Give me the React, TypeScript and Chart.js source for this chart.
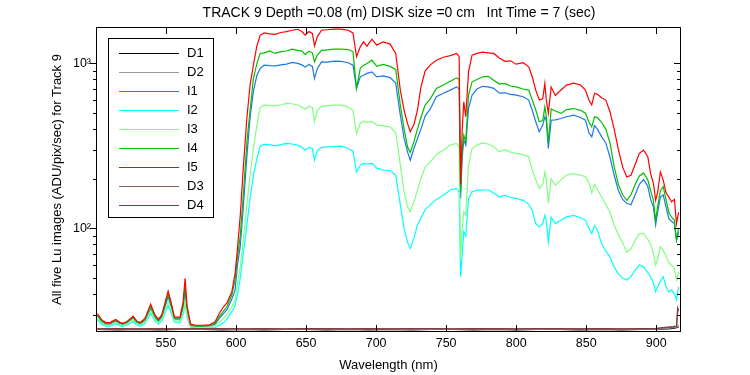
import React, { useEffect, useRef } from 'react';
import { Chart, registerables } from 'chart.js';

Chart.register(...registerables);

const TITLE = 'TRACK 9 Depth =0.08 (m) DISK size =0 cm   Int Time = 7 (sec)';
const X_TITLE = 'Wavelength (nm)';
const Y_TITLE = 'All five Lu images (ADU/pix/sec) for Track 9';
const X_MIN = 500.7;
const X_MAX = 917;
const Y_MIN = 23.9;
const Y_MAX = 1640;
const X_TICKS = [550, 600, 650, 700, 750, 800, 850, 900];
const Y_MAJOR = [100, 1000];
const Y_MAJOR_LABELS = ['10²', '10³'];

// wavelength grid for the illuminated (I) spectra
const WL = [
  501, 504, 507, 510, 514, 517, 519, 522, 526.5, 529, 531.5, 535, 539, 542, 544.5, 547, 549.5, 551.5, 553.5, 556,
  560, 562.2, 563.6, 565, 567.5, 571, 576, 581, 585, 588, 591, 593.5, 597, 599.3, 601, 603, 605.3, 607.7, 610, 612.4,
  614.9, 617.2, 620, 624, 628, 632, 636, 640, 644, 647, 649.4, 652, 654.5, 656, 658, 661, 665, 670, 675, 680,
  683.5, 686, 688.7, 691, 693.5, 697, 700.5, 705, 710, 714, 717.3, 720, 722.5, 724.4, 727, 729.5, 732, 735, 738.7, 743,
  748, 753, 757.5, 759.3, 760.3, 761.5, 762.6, 764, 766, 768.5, 772, 776, 780, 784, 788, 792, 796, 800, 805, 809,
  811.5, 814, 816.5, 819, 820.5, 821.5, 823, 825, 828, 832, 836, 841, 846, 849.5, 852, 854, 856, 858, 861, 864,
  867, 870, 873, 876, 879, 882, 885, 888, 891, 894, 896, 898, 899.6, 901, 903, 905, 907, 909, 911, 913,
  914.5, 916,
];

const I5 = [
  30.5, 28, 26.9, 26.9, 28.1, 27.0, 26.6, 27.2, 29.4, 27.5, 26.9, 28.5, 34.8, 30, 28.1, 30, 36, 41.7, 36, 29,
  29, 36, 49.8, 34, 26.3, 25.9, 25.9, 26, 27.2, 30.5, 33.5, 35.4, 41.4, 53.4, 75, 120, 242, 464, 739, 980,
  1280, 1480, 1530, 1510, 1500, 1540, 1560, 1590, 1610, 1560, 1485, 1560, 1520, 1278, 1450, 1590, 1600, 1615, 1615, 1590,
  1530, 1100, 1261, 1352, 1273, 1404, 1291, 1352, 1310, 1150, 690, 520, 430, 386, 427, 520, 720, 900, 980, 1047,
  1090, 1115, 1150, 1100, 185, 400, 585, 475, 889, 1123, 1150, 1170, 1160, 1150, 1080, 1030, 1037, 990, 1010, 954,
  830, 689, 600, 610, 757, 600, 500, 720, 640, 690, 739, 760, 740, 690, 600, 560, 660, 650, 620, 600,
  510, 400, 300, 236, 205, 210, 245, 285, 298, 272, 215, 188, 148, 165, 220, 197, 165, 155, 145, 150,
  107, 125,
];

const I4 = [
  29.8, 27.5, 26.6, 26.6, 27.8, 26.8, 26.4, 27.0, 29.0, 27.2, 26.6, 28.0, 33.8, 29.5, 27.7, 29.5, 35, 40, 35, 28.6,
  28.6, 34, 44, 33, 26.0, 25.6, 25.6, 25.8, 26.6, 29.2, 31.5, 33.5, 39.6, 48.8, 67, 90, 166, 330, 520, 811,
  1000, 1150, 1160, 1190, 1150, 1180, 1190, 1221, 1200, 1187, 1134, 1187, 1160, 1023, 1120, 1200, 1210, 1221, 1221, 1215,
  1176, 706, 933, 976, 1000, 1047, 960, 986, 960, 920, 560, 400, 310, 289, 335, 400, 470, 560, 610, 706,
  740, 781, 818, 800, 167, 300, 368, 335, 642, 774, 800, 830, 835, 790, 750, 757, 730, 721, 700, 689,
  600, 522, 443, 450, 546, 480, 330, 530, 515, 498, 525, 533, 520, 500, 440, 413, 475, 470, 440, 400,
  330, 236, 185, 160, 148, 160, 185, 208, 217, 197, 170, 148, 112, 135, 170, 179, 150, 125, 117, 112,
  85, 100,
];

const I1 = [
  29.4, 27.3, 26.3, 26.3, 27.5, 26.5, 26.2, 26.8, 28.6, 27.0, 26.4, 27.7, 32.7, 29, 27.4, 29, 34, 38.5, 34, 28.2,
  28.2, 33, 43, 32, 25.8, 25.5, 25.5, 25.6, 26.2, 28.5, 30.5, 32.2, 37.4, 42.3, 60, 78, 140, 270, 470, 680,
  849, 930, 976, 970, 967, 980, 990, 1014, 1000, 980, 950, 986, 960, 811, 930, 1023, 1020, 1033, 1030, 1010,
  976, 706, 830, 849, 870, 889, 830, 840, 820, 760, 486, 351, 290, 259, 305, 350, 400, 480, 530, 628,
  660, 689, 721, 700, 152, 270, 343, 320, 533, 642, 700, 727, 721, 706, 660, 664, 650, 642, 628, 600,
  520, 443, 386, 423, 475, 453, 305, 453, 455, 464, 475, 486, 470, 453, 380, 359, 420, 400, 360, 330,
  270, 210, 170, 150, 142, 139, 160, 185, 198, 180, 150, 135, 105, 125, 155, 160, 135, 115, 110, 107,
  85, 95,
];

const I3 = [
  28.9, 26.8, 25.9, 25.9, 27.0, 26.0, 25.8, 26.3, 28.0, 26.5, 26.0, 27.0, 31.8, 28.3, 26.9, 28.2, 32, 35.8, 32.5, 27.5,
  27.6, 31, 35.5, 30, 25.5, 25.2, 25.2, 25.3, 25.7, 27.0, 28.5, 30, 33.5, 36.8, 46.5, 58, 87, 139, 210, 305,
  423, 540, 559, 555, 553, 560, 572, 570, 560, 545, 528, 550, 540, 443, 520, 550, 555, 559, 559, 545,
  520, 376, 433, 447, 440, 445, 423, 420, 413, 380, 242, 167, 135, 126, 145, 170, 201, 235, 253, 280,
  298, 320, 328, 310, 66, 100, 126, 120, 242, 305, 320, 330, 325, 313, 291, 300, 290, 285, 280, 272,
  226, 197, 175, 185, 220, 200, 142, 200, 183, 197, 211, 215, 210, 206, 190, 164, 185, 172, 155, 140,
  125, 105, 92, 82, 72, 75, 85, 93, 93, 86, 80, 70.5, 60, 65, 77.7, 74, 68, 62, 60, 57.3,
  48.6, 54.6,
];

const I2 = [
  28.1, 26.3, 25.6, 25.6, 26.5, 25.7, 25.5, 25.9, 27.3, 26.0, 25.6, 26.5, 30.5, 27.5, 26.4, 27.6, 31, 34.1, 31, 27,
  27, 30, 35.5, 29, 25.2, 24.9, 24.9, 24.9, 25.1, 25.8, 26.8, 28.2, 31.4, 34.1, 39.6, 50, 72, 105, 152, 210,
  266, 315, 323, 322, 317, 322, 328, 325, 320, 310, 298, 310, 305, 259, 295, 310, 312, 313, 315, 305,
  294, 220, 242, 248, 246, 248, 232, 226, 224, 210, 139, 100, 82, 75.7, 87, 105, 115, 130, 139, 150,
  159, 171, 175, 165, 51, 70, 95.5, 90, 152, 167, 170, 171, 171, 164, 155, 159, 154, 152, 148, 140,
  129, 107, 102, 107, 120, 112, 83, 117, 107, 112, 117.5, 120, 116, 112, 100, 93, 104, 98, 81, 73,
  67, 58.5, 53, 50, 48.6, 51, 56, 60, 58.5, 54, 51, 47, 41.3, 44.2, 48, 51, 44.2, 41.3, 42.3, 40,
  37, 44.2,
];

// wavelength grid for the dark (D) frames
const DWL = [
  501, 515, 530, 545, 560, 575, 590, 605, 620, 635, 650, 665, 680, 695, 710, 725, 740, 755, 770, 785,
  800, 815, 830, 845, 860, 875, 890, 900, 903, 908, 912, 914.5, 915.3, 916,
];
const D1 = [
  24.4, 24.3, 24.4, 24.3, 24.4, 24.4, 24.3, 24.4, 24.3, 24.4, 24.4, 24.3, 24.4, 24.3, 24.4, 24.3, 24.4, 24.4, 24.3, 24.4,
  24.3, 24.4, 24.4, 24.3, 24.4, 24.3, 24.4, 24.4, 24.5, 24.6, 24.8, 25.0, 25.2, 25.4,
];
const D2 = [
  24.5, 24.4, 24.5, 24.5, 24.4, 24.5, 24.5, 24.4, 24.5, 24.4, 24.5, 24.5, 24.4, 24.5, 24.5, 24.4, 24.5, 24.4, 24.5, 24.5,
  24.4, 24.5, 24.4, 24.5, 24.5, 24.4, 24.5, 24.5, 24.6, 24.8, 25.0, 25.2, 25.6, 26.0,
];
const D3 = [
  24.6, 24.5, 24.6, 24.5, 24.6, 24.6, 24.5, 24.6, 24.6, 24.5, 24.6, 24.5, 24.6, 24.6, 24.5, 24.6, 24.6, 24.5, 24.6, 24.5,
  24.6, 24.6, 24.5, 24.6, 24.5, 24.6, 24.6, 24.6, 24.8, 25.0, 25.2, 25.4, 31.0, 32.5,
];
const D4 = [
  24.6, 24.7, 24.6, 24.7, 24.6, 24.7, 24.7, 24.6, 24.7, 24.6, 24.7, 24.7, 24.6, 24.7, 24.6, 24.7, 24.7, 24.6, 24.7, 24.7,
  24.6, 24.7, 24.7, 24.6, 24.7, 24.6, 24.7, 24.8, 25.0, 25.2, 25.4, 25.6, 33.0, 32.0,
];

const LABELS = ['D1', 'D2', 'I1', 'I2', 'I3', 'I4', 'I5', 'D3', 'D4'];
const COLORS = ['#000000', '#999999', '#1e78e6', '#00ffff', '#80ff80', '#00c000', '#ff0000', '#8c6464', '#803c3c'];
const XS = [DWL, DWL, WL, WL, WL, WL, WL, DWL, DWL];
const YS = [D1, D2, I1, I2, I3, I4, I5, D3, D4];

const FONT = '"Liberation Sans", Arial, Helvetica, sans-serif';

const framePlugin = {
  id: 'frameTicksLegend',
  afterDraw(chart: any) {
    const { ctx, chartArea } = chart;
    const { left, right, top, bottom } = chartArea;
    const xs = chart.scales.x;
    const ys = chart.scales.y;
    ctx.save();
    ctx.strokeStyle = '#000';
    ctx.lineWidth = 1;
    // frame
    ctx.strokeRect(Math.round(left) - 0.5, Math.round(top) - 0.5, Math.round(right - left) + 1, Math.round(bottom - top) + 1);
    // x ticks (inside, top & bottom)
    ctx.beginPath();
    X_TICKS.forEach((v) => {
      const px = Math.round(xs.getPixelForValue(v)) + 0.5;
      ctx.moveTo(px, bottom);
      ctx.lineTo(px, bottom - 6);
      ctx.moveTo(px, top);
      ctx.lineTo(px, top + 6);
    });
    // y ticks: left outside, right inside
    for (let e = 1; e <= 3; e++) {
      for (let m = 1; m <= 9; m++) {
        const v = m * Math.pow(10, e);
        if (v < Y_MIN || v > Y_MAX) continue;
        const py = Math.round(ys.getPixelForValue(v)) + 0.5;
        const major = m === 1;
        ctx.moveTo(left, py);
        ctx.lineTo(left - (major ? 7 : 4), py);
        ctx.moveTo(right, py);
        ctx.lineTo(right - (major ? 6 : 3), py);
      }
    }
    ctx.stroke();

    // title
    ctx.fillStyle = '#000';
    ctx.font = '14px ' + FONT;
    ctx.textAlign = 'center';
    ctx.textBaseline = 'middle';
    ctx.fillText(TITLE, 399, 13);

    // legend
    ctx.font = '13px ' + FONT;
    const lx = 108.5, ly = 38.5, lw = 105, lh = 179;
    ctx.fillStyle = '#fff';
    ctx.fillRect(lx, ly, lw, lh);
    ctx.strokeStyle = '#000';
    ctx.strokeRect(lx, ly, lw, lh);
    ctx.textAlign = 'left';
    chart.data.datasets.forEach((ds: any, i: number) => {
      const y = Math.round(52.5 + i * 19.1) + 0.5;
      ctx.strokeStyle = ds.borderColor;
      ctx.beginPath();
      ctx.moveTo(119, y);
      ctx.lineTo(179, y);
      ctx.stroke();
      ctx.fillStyle = '#000';
      ctx.fillText(ds.label, 187, y);
    });
    ctx.restore();
  },
};

export default function App() {
  const ref = useRef<HTMLCanvasElement>(null);
  useEffect(() => {
    document.body.style.margin = '0';
    const datasets = LABELS.map((label, i) => ({
      label,
      data: XS[i].map((x, j) => ({ x, y: YS[i][j] })),
      borderColor: COLORS[i],
      backgroundColor: COLORS[i],
      borderWidth: 1.2,
      pointRadius: 0,
      tension: 0,
      fill: false,
      order: LABELS.length - i,
    }));
    const chart = new Chart(ref.current as HTMLCanvasElement, {
      type: 'line',
      data: { datasets },
      plugins: [framePlugin],
      options: {
        responsive: false,
        animation: false,
        events: [],
        layout: { padding: { top: 28, right: 70, left: 0, bottom: 0 } },
        plugins: { legend: { display: false }, title: { display: false }, tooltip: { enabled: false } },
        scales: {
          x: {
            type: 'linear',
            min: X_MIN,
            max: X_MAX,
            grid: { display: false, drawTicks: false },
            border: { display: false },
            ticks: {
              stepSize: 50,
              includeBounds: false,
              autoSkip: false,
              maxRotation: 0,
              padding: 5,
              color: '#000',
              font: { family: FONT, size: 12.5 },
              callback: (v: any) => (X_TICKS.includes(Number(v)) ? String(v) : ''),
            },
            title: { display: true, text: X_TITLE, color: '#000', font: { family: FONT, size: 13 }, padding: { top: 0, bottom: 2 } },
            afterFit: (s: any) => { s.height = 44; },
          },
          y: {
            type: 'logarithmic',
            min: Y_MIN,
            max: Y_MAX,
            grid: { display: false, drawTicks: false },
            border: { display: false },
            ticks: {
              autoSkip: false,
              padding: 6,
              color: '#000',
              font: { family: FONT, size: 12.5 },
              callback: (v: any) => {
                const k = Y_MAJOR.indexOf(Number(v));
                return k >= 0 ? Y_MAJOR_LABELS[k] : '';
              },
            },
            title: { display: true, text: Y_TITLE, color: '#000', font: { family: FONT, size: 13 }, padding: { top: 50, bottom: 0 } },
            afterFit: (s: any) => { s.width = 97; },
          },
        },
      } as any,
    });
    return () => chart.destroy();
  }, []);
  return (
    <div style={{ position: 'absolute', left: 0, top: 0, width: 750, height: 375, background: '#fff' }}>
      <canvas ref={ref} width={750} height={375} style={{ display: 'block', width: 750, height: 375 }} />
    </div>
  );
}
